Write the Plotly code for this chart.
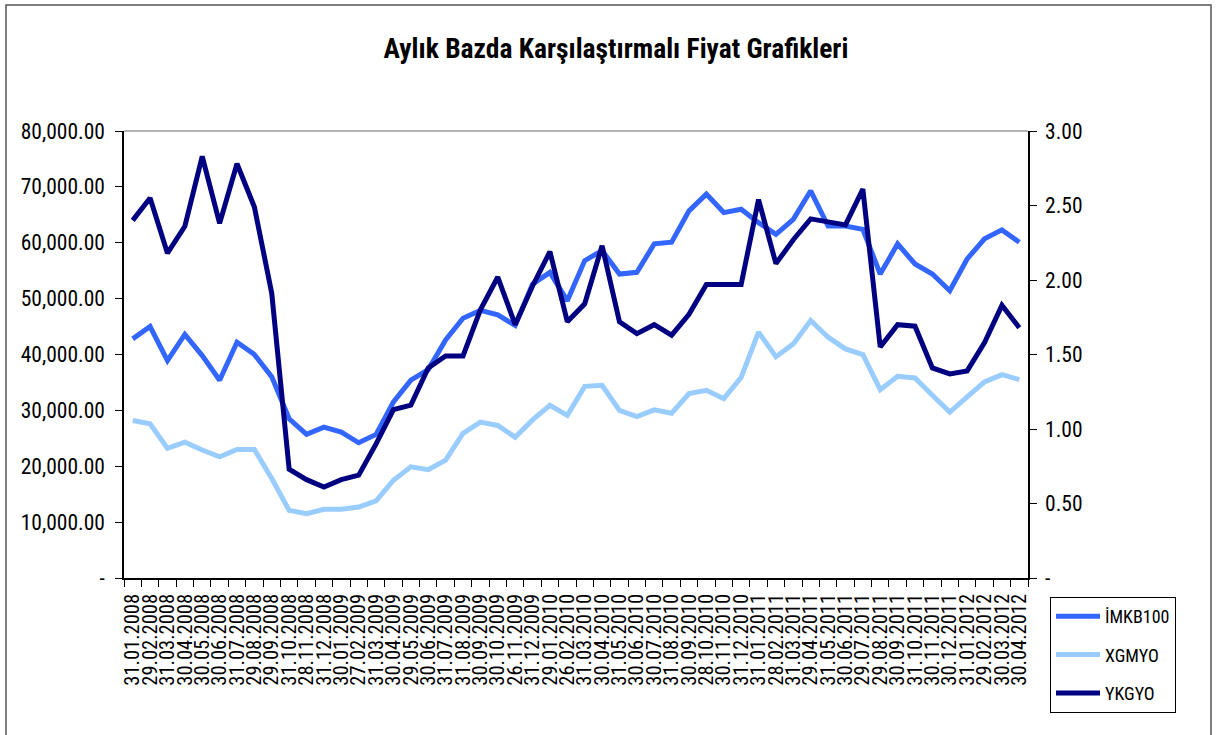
import plotly.graph_objects as go

dates = [
    "31.01.2008", "29.02.2008", "31.03.2008", "30.04.2008", "30.05.2008", "30.06.2008",
    "31.07.2008", "29.08.2008", "29.09.2008", "31.10.2008", "28.11.2008", "31.12.2008",
    "30.01.2009", "27.02.2009", "31.03.2009", "30.04.2009", "29.05.2009", "30.06.2009",
    "31.07.2009", "31.08.2009", "30.09.2009", "30.10.2009", "26.11.2009", "31.12.2009",
    "29.01.2010", "26.02.2010", "31.03.2010", "30.04.2010", "31.05.2010", "30.06.2010",
    "30.07.2010", "31.08.2010", "30.09.2010", "28.10.2010", "30.11.2010", "31.12.2010",
    "31.01.2011", "28.02.2011", "31.03.2011", "29.04.2011", "31.05.2011", "30.06.2011",
    "29.07.2011", "29.08.2011", "30.09.2011", "31.10.2011", "30.11.2011", "30.12.2011",
    "31.01.2012", "29.02.2012", "30.03.2012", "30.04.2012",
]

imkb100 = [
    42800, 45000, 38900, 43600, 39800, 35400, 42200, 40000, 36000, 28500, 25700, 27000,
    26100, 24200, 25700, 31500, 35400, 37300, 42600, 46500, 47900, 47100, 45200, 52600,
    54700, 49600, 56800, 58600, 54400, 54700, 59800, 60100, 65700, 68700, 65400, 66000,
    63600, 61500, 64200, 69300, 63000, 63000, 62400, 54400, 59800, 56200, 54400, 51400,
    57100, 60700, 62300, 60100,
]

xgmyo = [
    28200, 27600, 23200, 24300, 22900, 21700, 23000, 23000, 17800, 12100, 11500, 12300,
    12300, 12700, 13800, 17500, 19900, 19400, 21100, 25900, 27900, 27300, 25200, 28300,
    30900, 29100, 34300, 34500, 30000, 28900, 30100, 29500, 33000, 33600, 32100, 35900,
    44000, 39600, 41900, 46100, 43100, 41000, 40000, 33700, 36100, 35800, 32700, 29700,
    32400, 35100, 36400, 35500,
]

ykgyo = [
    2.40, 2.55, 2.18, 2.36, 2.83, 2.38, 2.78, 2.49, 1.91, 0.73, 0.66, 0.61,
    0.66, 0.69, 0.90, 1.13, 1.16, 1.41, 1.49, 1.49, 1.80, 2.02, 1.70, 1.96,
    2.19, 1.72, 1.84, 2.23, 1.72, 1.64, 1.70, 1.63, 1.77, 1.97, 1.97, 1.97,
    2.54, 2.11, 2.27, 2.41, 2.39, 2.37, 2.61, 1.55, 1.70, 1.69, 1.41, 1.37,
    1.39, 1.58, 1.83, 1.68,
]

left_ticks = [0, 10000, 20000, 30000, 40000, 50000, 60000, 70000, 80000]
left_labels = ["-", "10,000.00", "20,000.00", "30,000.00", "40,000.00",
               "50,000.00", "60,000.00", "70,000.00", "80,000.00"]
right_ticks = [0, 0.5, 1.0, 1.5, 2.0, 2.5, 3.0]
right_labels = ["-", "0.50", "1.00", "1.50", "2.00", "2.50", "3.00"]

FONT = "Roboto Condensed, Liberation Sans Narrow, Arial Narrow, sans-serif"

fig = go.Figure()
fig.add_trace(go.Scatter(x=dates, y=imkb100, name="İMKB100", mode="lines",
                         line=dict(color="#3366FF", width=5), legendgroup="a"))
fig.add_trace(go.Scatter(x=dates, y=xgmyo, name="XGMYO", mode="lines",
                         line=dict(color="#99CCFF", width=5), legendgroup="b"))
fig.add_trace(go.Scatter(x=dates, y=ykgyo, name="YKGYO", mode="lines", yaxis="y2",
                         line=dict(color="#000080", width=5), legendgroup="c"))

L, R, T, B = 124, 1028, 131, 578
W, H = 1218, 735


def px(x):
    return (x - L) / (R - L)


def py(y):
    return (B - y) / (B - T)


fig.update_layout(
    width=W, height=H,
    margin=dict(l=L, r=W - R, t=T, b=H - B, autoexpand=False),
    paper_bgcolor="white", plot_bgcolor="white",
    font=dict(family=FONT, size=20, color="#000000"),
    title=dict(text="<b>Aylık Bazda Karşılaştırmalı Fiyat Grafikleri</b>",
               x=616 / W, xanchor="center", y=1 - 48 / H, yanchor="middle",
               font=dict(family=FONT, size=27.5, color="#000000")),
    xaxis=dict(type="category", tickangle=-90, tickson="boundaries",
               tickmode="array", tickvals=dates, ticktext=dates,
               ticks="outside", ticklen=7, tickcolor="#000", showline=True,
               linecolor="#000", linewidth=1.5, showgrid=False, zeroline=False,
               tickfont=dict(size=20.5), ticklabelstandoff=6,
               range=[-0.5, len(dates) - 0.5]),
    yaxis=dict(range=[0, 80000], tickvals=left_ticks, ticktext=left_labels,
               ticks="outside", ticklen=7, tickcolor="#000", showline=True,
               linecolor="#000", linewidth=1.5, showgrid=False, zeroline=False,
               tickfont=dict(size=21.5), ticklabelstandoff=6),
    yaxis2=dict(range=[0, 3], tickvals=right_ticks, ticktext=right_labels,
                overlaying="y", side="right", ticks="outside", ticklen=7,
                tickcolor="#000", showline=True, linecolor="#000", linewidth=1.5,
                showgrid=False, zeroline=False, tickfont=dict(size=21.5),
                ticklabelstandoff=4),
    legend=dict(x=px(1050), y=py(597), xanchor="left", yanchor="top",
                bordercolor="#000", borderwidth=1, bgcolor="white",
                font=dict(size=18), tracegroupgap=12, itemwidth=44,
                entrywidth=90),
    showlegend=True,
)

fig.add_shape(type="line", xref="paper", yref="paper", x0=0, x1=1, y0=1, y1=1,
              line=dict(color="#999999", width=1.5))
fig.add_shape(type="rect", xref="paper", yref="paper",
              x0=px(6), x1=px(1211), y0=py(760), y1=py(5),
              line=dict(color="#555555", width=1.5), layer="below")

fig.write_html("out.html", config={"displayModeBar": False},
               post_script="document.body.style.margin='0';")
